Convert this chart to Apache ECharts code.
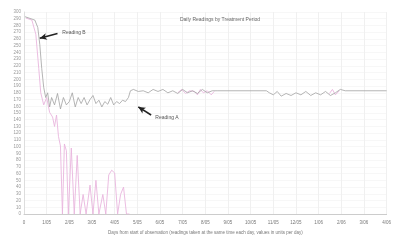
<!DOCTYPE html>
<html><head><meta charset="utf-8">
<script src="https://cdn.jsdelivr.net/npm/echarts@6/dist/echarts.min.js"></script>
<style>html,body{margin:0;padding:0;background:#fff}#c{width:394px;height:240px}</style>
</head><body><div id="c"></div>
<script>
const titleText = "Daily Readings by Treatment Period";
const xAxisTitle = "Days from start of observation (readings taken at the same time each day, values in units per day)";
const xTickLabels = ["0","1/05","2/05","3/05","4/05","5/05","6/05","7/05","8/05","9/05","10/05","11/05","12/05","1/06","2/06","3/06","4/06"];
const grayName = "Reading A";
const pinkName = "Reading B";
const grayData = [[1,293],[11,288],[14,277],[16,252],[18,216],[20,188],[22,173],[24,180],[26,159],[28,173],[31,162],[34,179],[37,156],[40,173],[43,162],[46,167],[49,180],[52,159],[55,173],[58,164],[61,173],[64,162],[67,170],[70,176],[73,164],[76,169],[79,159],[82,167],[85,163],[88,173],[91,162],[94,167],[97,164],[100,169],[103,167],[106,173],[108,183],[111,185],[116,182],[121,183],[126,180],[131,185],[136,182],[141,185],[146,180],[151,183],[156,179],[161,185],[166,180],[171,183],[176,179],[181,185],[186,180],[191,183],[196,183],[246,183],[249,180],[253,177],[257,182],[261,175],[266,179],[271,176],[276,180],[281,177],[286,182],[291,176],[296,180],[301,177],[306,182],[311,176],[316,180],[321,185],[326,183],[368,183]];
const pinkData = [[2,291],[8,288],[12,267],[15,216],[17,180],[20,162],[23,173],[26,151],[29,144],[31,130],[33,147],[35,115],[37,101],[39,0],[41,104],[43,94],[45,0],[48,98],[51,0],[54,87],[57,0],[60,29],[63,0],[67,43],[70,0],[73,50],[76,0],[80,29],[83,0],[86,58],[89,65],[92,61],[95,0],[98,29],[101,40],[104,0],[107,0],null,[156,180],[160,185],[164,179],[168,183],[173,182],[176,177],[179,185],[182,180],[186,183],[190,177],[193,182],null,[310,179],[313,185],[316,177],[320,183]];
const noteA = {text:"Reading B", from:[34,268], to:[16,261]};
const noteB = {text:"Reading A", from:[129,147], to:[116,159]};

const chart = echarts.init(document.getElementById('c'));
function note(n){
  return [{coord:n.from, symbol:'none', label:{show:true, position:'start', formatter:n.text, fontSize:5, color:'#555', fontFamily:'Liberation Sans'}},
          {coord:n.to, symbol:'arrow', symbolSize:[5,7]}];
}
chart.setOption({
  animation:false,
  title:{text:titleText, left:215, top:12, textAlign:'center', textStyle:{fontSize:5, fontWeight:'normal', color:'#666', fontFamily:'Liberation Sans'}},
  grid:{left:24, right:2, top:12, bottom:21},
  xAxis:{type:'value', min:0, max:368, interval:23,
    name:xAxisTitle, nameLocation:'middle', nameGap:16, nameTextStyle:{fontSize:4.5, color:'#777', fontFamily:'Liberation Sans'},
    axisLine:{show:true, lineStyle:{color:'#ccc', width:1}}, axisTick:{show:false},
    axisLabel:{fontSize:4.5, color:'#777', margin:6, fontFamily:'Liberation Sans', formatter:(v)=>xTickLabels[Math.round(v/23)]||''},
    splitLine:{show:true, lineStyle:{color:'#f0f0f0', width:1}}},
  yAxis:{type:'value', min:0, max:300, interval:10,
    axisLine:{show:true, lineStyle:{color:'#ddd'}}, axisTick:{show:false},
    axisLabel:{fontSize:4.5, color:'#999', margin:3, fontFamily:'Liberation Sans'},
    splitLine:{show:true, lineStyle:{color:'#f7f7f7', width:1}}},
  series:[
    {name:grayName, type:'line', data:grayData, showSymbol:false, connectNulls:false,
     lineStyle:{color:'#a2a2a2', width:0.8}, itemStyle:{color:'#a2a2a2'}, z:3,
     markLine:{silent:true, animation:false, lineStyle:{color:'#222', width:1.6, type:'solid'},
       data:[note(noteA), note(noteB)]}},
    {name:pinkName, type:'line', data:pinkData, showSymbol:false, connectNulls:false,
     lineStyle:{color:'#e9b6de', width:0.9}, itemStyle:{color:'#e9b6de'}, z:2}
  ]
});
</script></body></html>
